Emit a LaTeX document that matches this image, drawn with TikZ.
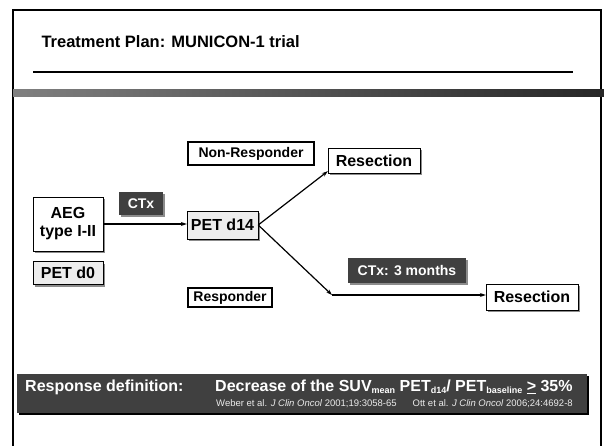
\documentclass[tikz,border=0pt]{standalone}
\usepackage{fontspec}
\setmainfont{Liberation Sans}
\usetikzlibrary{arrows.meta,shadows}
\newcommand{\lowsub}[1]{\raisebox{-1.5pt}{\fontsize{9}{9}\selectfont #1}}
\begin{document}
\begin{tikzpicture}[x=1pt, y=-1pt,
 box/.style={rectangle, draw, thin, fill=white, font=\fontsize{16}{18}\selectfont\bfseries, align=center, inner sep=2pt, general shadow={fill=black!45, shadow xshift=2pt, shadow yshift=-2pt}},
 petbox/.style={box, fill=black!7},
 darkbox/.style={rectangle, fill=black!75, text=white, font=\fontsize{14}{16}\selectfont\bfseries, inner sep=2pt, general shadow={fill=black!45, shadow xshift=2pt, shadow yshift=-2pt}},
 groupbox/.style={rectangle, draw, line width=2pt, fill=white, font=\fontsize{14}{16}\selectfont\bfseries, inner sep=2pt},
 arr/.style={-{Stealth[length=6pt,width=4pt]}, line width=1.2pt},
 bartxt/.style={text=white, anchor=west, inner sep=0pt},
]
\useasboundingbox (0,0) rectangle (604,446);
% slide frame, title and rule
\draw[line width=2.5pt] (13,446) -- (13,10) -- (601,10) -- (601,446);
\shade[left color=black!50, right color=black!85] (13,90) rectangle (604,97);
\node[anchor=west, font=\fontsize{16.5}{18}\selectfont\bfseries] (title) at (38,42) {Treatment Plan: MUNICON-1 trial};
\draw[line width=1.5pt] (33,72) -- (573,72);

\node[box, minimum width=70, minimum height=54] (aeg) at (68,224) {AEG\\type I-II};
\node[petbox, minimum width=70, minimum height=23] (pet0) at (68,273) {PET d0};
\node[darkbox, minimum width=44, minimum height=23] (ctx) at (141,203.5) {CTx};
\node[petbox, minimum width=71, minimum height=28] (pet14) at (222.5,225) {PET d14};
\node[groupbox, minimum width=126, minimum height=23] (nonresp) at (251,153.5) {Non-Responder};
\node[box, minimum width=92, minimum height=25] (res1) at (374,160.5) {Resection};
\node[groupbox, minimum width=84, minimum height=19] (resp) at (230,297.5) {Responder};
\node[darkbox, minimum width=118, minimum height=25] (ctx3) at (407,270.5) {CTx: 3 months};
\node[box, minimum width=92, minimum height=26] (res2) at (532,297) {Resection};
\coordinate (knee) at (332,295);

\draw[arr] (aeg.east) -- (aeg.east -| pet14.west);
\draw[arr] (pet14.east) -- ([yshift=2]res1.south west);
\draw[arr] (pet14.east) -- (knee);
\draw[arr] (knee) -- (knee -| res2.west);

% response definition bar
\node[rectangle, fill=black!75, anchor=north west, minimum width=570, minimum height=39, general shadow={fill=black, shadow xshift=1.5pt, shadow yshift=-1.5pt}] (bar) at (17,374) {};
\node[bartxt, font=\fontsize{16}{18}\selectfont\bfseries] (respdef) at (25,387) {Response definition:};
\node[bartxt, font=\fontsize{16}{18}\selectfont\bfseries] (decrease) at (215,387) {Decrease of the SUV\lowsub{mean} PET\lowsub{d14}/ PET\lowsub{baseline} \underline{>} 35\%};
\node[bartxt, font=\fontsize{9.5}{10}\selectfont, text=black!8] (refs) at (216,404) {Weber et al. \textit{J Clin Oncol} 2001;19:3058-65\hspace{16pt}Ott et al. \textit{J Clin Oncol} 2006;24:4692-8};
\end{tikzpicture}
\end{document}
